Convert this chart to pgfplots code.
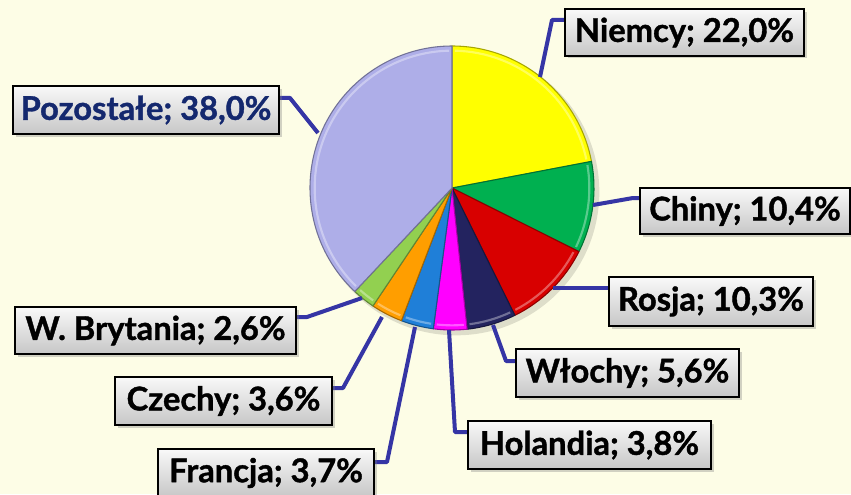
\documentclass[border=0pt]{standalone}
\usepackage{pgfplots}
\pgfplotsset{compat=1.18}
\usepackage{pgfplotstable}
\usepackage{fontspec}
\setmainfont{Lato}[BoldFeatures={FakeBold=1.2}]
\usetikzlibrary{shadows}
\definecolor{bg}{HTML}{FDFDE6}
\definecolor{c0}{HTML}{FFFF00}
\definecolor{c1}{HTML}{00B050}
\definecolor{c2}{HTML}{D80000}
\definecolor{c3}{HTML}{23235F}
\definecolor{c4}{HTML}{FF00FF}
\definecolor{c5}{HTML}{1F7FD8}
\definecolor{c6}{HTML}{FF9E00}
\definecolor{c7}{HTML}{92D050}
\definecolor{c8}{HTML}{AEAEE8}
\definecolor{leader}{HTML}{3535A5}
\definecolor{darkblue}{HTML}{14286E}

\pgfplotstableread{
name value
Niemcy 22.0
Chiny 10.4
Rosja 10.3
Wlochy 5.6
Holandia 3.8
Francja 3.7
Czechy 3.6
WBrytania 2.6
Pozostale 38.0
}\piedata

\tikzset{
  lbox/.style={draw=black, line width=1.1pt, top color=white!95!gray, bottom color=black!22,
    drop shadow={opacity=0.35, shadow xshift=2pt, shadow yshift=-2pt},
    inner sep=0pt, font=\fontsize{24.5}{28}\selectfont\bfseries, text=black},
  ldr/.style={leader, line width=3pt, no markers, line join=round}
}

\begin{document}
\begin{tikzpicture}
\begin{axis}[x=0.75pt, y=0.75pt, xmin=0, xmax=851, ymin=-494, ymax=0,
  scale only axis, hide axis, clip=false]
\fill[bg] (axis cs:0,-494) rectangle (axis cs:851,0);
% pie shadow
\fill[black, opacity=0.12] (axis cs:456,-192) circle[radius=107.5pt];
\def\cum{0}
\pgfplotsforeachungrouped \i in {0,...,8}{%
  \pgfplotstablegetelem{\i}{value}\of\piedata
  \pgfmathsetmacro\angA{90-3.6*\cum}%
  \pgfmathsetmacro\cum{\cum+\pgfplotsretval}%
  \pgfmathsetmacro\angB{90-3.6*\cum}%
  \pgfmathsetmacro\angAi{\angA-1.2}%
  \pgfmathsetmacro\angBi{\angB+1.2}%
  \edef\temp{\noexpand\filldraw[fill=c\i, draw=c\i!65!black, line width=0.8pt, line join=round]
     (axis cs:452,-188) -- ++(\angA:106.5pt) arc[start angle=\angA, end angle=\angB, radius=106.5pt] -- cycle;
     \noexpand\draw[white, opacity=0.35, line width=1.6pt]
     (axis cs:452,-188) ++(\angAi:103pt) arc[start angle=\angAi, end angle=\angBi, radius=103pt];}%
  \temp
}
% leader lines
\addplot[ldr] coordinates {(540,-77) (552,-20) (565,-20)};
\addplot[ldr] coordinates {(318,-133) (290,-98) (279,-98)};
\addplot[ldr] coordinates {(593,-205) (633,-198) (640,-198)};
\addplot[ldr] coordinates {(553,-288) (609,-288)};
\addplot[ldr] coordinates {(493,-325) (506,-361) (516,-361)};
\addplot[ldr] coordinates {(449,-330) (455,-432) (468,-432)};
\addplot[ldr] coordinates {(415,-327) (387,-462) (374,-462)};
\addplot[ldr] coordinates {(382,-317) (343,-388) (332,-388)};
\addplot[ldr] coordinates {(362,-298) (307,-317) (296,-317)};
% labels
\node[lbox, minimum width=179pt, minimum height=35pt] at (axis cs:684.5,-32.5) {Niemcy; 22,0\%};
\node[lbox, minimum width=199.5pt, minimum height=36pt, text=darkblue] at (axis cs:146,-110) {Pozostałe; 38,0\%};
\node[lbox, minimum width=157.5pt, minimum height=34.5pt] at (axis cs:745,-211) {Chiny; 10,4\%};
\node[lbox, minimum width=153pt, minimum height=36.5pt] at (axis cs:711,-301.5) {Rosja; 10,3\%};
\node[lbox, minimum width=167pt, minimum height=36pt] at (axis cs:627.5,-373) {Włochy; 5,6\%};
\node[lbox, minimum width=182pt, minimum height=36pt] at (axis cs:589.5,-445) {Holandia; 3,8\%};
\node[lbox, minimum width=162pt, minimum height=36pt] at (axis cs:266,-473) {Francja; 3,7\%};
\node[lbox, minimum width=163pt, minimum height=36pt] at (axis cs:223.5,-401) {Czechy; 3,6\%};
\node[lbox, minimum width=211pt, minimum height=35pt] at (axis cs:155.5,-330.5) {W. Brytania; 2,6\%};
\end{axis}
\pgfresetboundingbox
\path[use as bounding box] (current axis.south west) rectangle (current axis.north east);
\end{tikzpicture}
\end{document}
